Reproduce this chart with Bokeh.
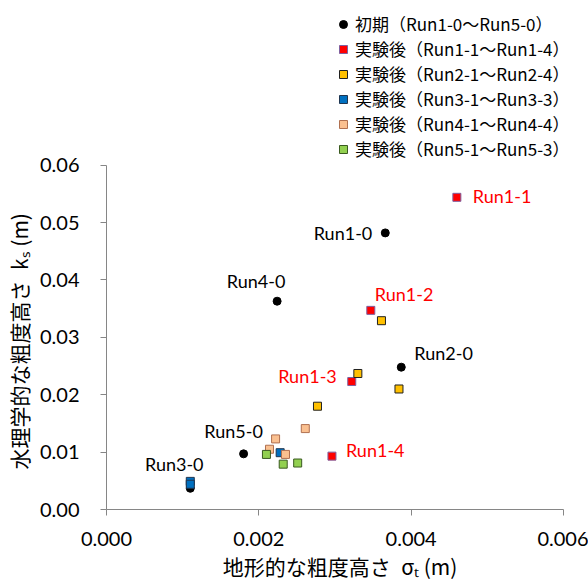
from bokeh.plotting import figure
from bokeh.models import (Range1d, FixedTicker, NumeralTickFormatter, Legend,
                          LegendItem, Title)
from bokeh.embed import file_html
from bokeh.resources import INLINE

# Initial state (Run1-0 ... Run5-0)
initial_names = ["Run1-0", "Run2-0", "Run3-0", "Run4-0", "Run5-0"]
initial_sigma = [0.00366, 0.00387, 0.00110, 0.00224, 0.00180]
initial_ks = [0.0482, 0.0248, 0.0037, 0.0363, 0.0097]

# After experiments, Run1-1 ... Run1-4
run1_names = ["Run1-1", "Run1-2", "Run1-3", "Run1-4"]
run1_sigma = [0.00460, 0.00347, 0.00322, 0.00296]
run1_ks = [0.0544, 0.0347, 0.0223, 0.0093]

# Run2-1 ... Run2-4
run2_sigma = [0.00361, 0.00330, 0.00384, 0.00277]
run2_ks = [0.0329, 0.0237, 0.0210, 0.0180]

# Run3-1 ... Run3-3
run3_sigma = [0.00110, 0.00110, 0.00228]
run3_ks = [0.0049, 0.0044, 0.0099]

# Run4-1 ... Run4-4
run4_sigma = [0.00222, 0.00214, 0.00235, 0.00261]
run4_ks = [0.0123, 0.0105, 0.0096, 0.0141]

# Run5-1 ... Run5-3
run5_sigma = [0.00210, 0.00232, 0.00251]
run5_ks = [0.0096, 0.0079, 0.0081]

legend_labels = [
    "初期（Run1-0～Run5-0）",
    "実験後（Run1-1～Run1-4）",
    "実験後（Run2-1～Run2-4）",
    "実験後（Run3-1～Run3-3）",
    "実験後（Run4-1～Run4-4）",
    "実験後（Run5-1～Run5-3）",
]

x_ticks = [0.0, 0.002, 0.004, 0.006]
y_ticks = [0.0, 0.01, 0.02, 0.03, 0.04, 0.05, 0.06]
X_MAX, Y_MAX = 0.006, 0.06

AXIS_GRAY = "#868686"
LATIN = "Lato"
CJK = "Noto Sans CJK JP"

# Page geometry: the axes span 457 x 345 px; the frame is a little larger so
# the legend has room above and right of the axis ends.
W, H = 588, 583
LEFT, RIGHT, TOP, BOTTOM = 106, 15, 5, 73
X_AXIS_PX, Y_AXIS_PX = 457, 345
x_end = X_MAX * (W - LEFT - RIGHT) / X_AXIS_PX
y_end = Y_MAX * (H - TOP - BOTTOM) / Y_AXIS_PX

p = figure(width=W, height=H, output_backend="svg", toolbar_location=None,
           title=None,
           x_range=Range1d(0, x_end), y_range=Range1d(0, y_end),
           min_border_left=LEFT, min_border_right=RIGHT,
           min_border_top=TOP, min_border_bottom=BOTTOM)
p.outline_line_color = None
p.xgrid.visible = False
p.ygrid.visible = False
p.background_fill_color = "white"
p.border_fill_color = "white"

for ax in (p.xaxis[0], p.yaxis[0]):
    ax.axis_line_color = AXIS_GRAY
    ax.major_tick_line_color = AXIS_GRAY
    ax.minor_tick_line_color = None
    ax.major_tick_in = 0
    ax.major_tick_out = 6
    ax.major_label_text_font = LATIN
    ax.major_label_text_font_size = "20px"
    ax.major_label_text_color = "black"

p.xaxis.bounds = (0, X_MAX)
p.yaxis.bounds = (0, Y_MAX)
p.xaxis.ticker = FixedTicker(ticks=x_ticks)
p.yaxis.ticker = FixedTicker(ticks=y_ticks)
p.xaxis.formatter = NumeralTickFormatter(format="0.000")
p.yaxis.formatter = NumeralTickFormatter(format="0.00")
p.xaxis.major_label_standoff = 16
p.yaxis.major_label_standoff = 21

p.xaxis.axis_label = "地形的な粗度高さ\u2002σₜ (m)"
p.xaxis.axis_label_standoff = 2
p.xaxis.axis_label_text_font = CJK
p.xaxis.axis_label_text_font_size = "21px"
p.xaxis.axis_label_text_font_style = "normal"
p.xaxis.axis_label_text_color = "black"

# y-axis title, placed from the bottom of the axis upward
ytitle = Title(text="水理学的な粗度高さ\u2002kₛ (m)", align="left", offset=40,
               vertical_align="middle", standoff=4,
               text_font=CJK, text_font_size="21px", text_font_style="normal",
               text_color="black")
p.add_layout(ytitle, "left")

styles = [
    dict(marker="circle", fill_color="black", line_color="black"),
    dict(marker="square", fill_color="#FF0000", line_color="#7F60A0"),
    dict(marker="square", fill_color="#FFC000", line_color="#202020"),
    dict(marker="square", fill_color="#0070C0", line_color="#1F3550"),
    dict(marker="square", fill_color="#FAC090", line_color="#B07050"),
    dict(marker="square", fill_color="#92D050", line_color="#3A5A20"),
]
series = [
    (initial_sigma, initial_ks),
    (run1_sigma, run1_ks),
    (run2_sigma, run2_ks),
    (run3_sigma, run3_ks),
    (run4_sigma, run4_ks),
    (run5_sigma, run5_ks),
]
renderers = [p.scatter(xs, ys, size=8, line_width=1, **st)
             for (xs, ys), st in zip(series, styles)]

# Point labels: initial runs in black, Run1 series in red
init_align = ["right", "left", "center", "center", "center"]
init_dx = [-13, 13, -16, -21, -10]
init_dy = [0, -14, -24, -20, -23]
p.text(x=initial_sigma, y=initial_ks, text=initial_names,
       x_offset=init_dx, y_offset=init_dy, text_align=init_align,
       text_baseline="middle", text_font={"value": LATIN},
       text_font_size="18px", text_color="black")

run1_align = ["left", "left", "right", "left"]
run1_dx = [16, 4, -15, 14]
run1_dy = [-1, -16, -6, -6]
p.text(x=run1_sigma, y=run1_ks, text=run1_names,
       x_offset=run1_dx, y_offset=run1_dy, text_align=run1_align,
       text_baseline="middle", text_font={"value": LATIN},
       text_font_size="18px", text_color="#FF0000")

items = [LegendItem(label=lab, renderers=[r])
         for lab, r in zip(legend_labels, renderers)]
legend = Legend(items=items, location=(227, 348),
                glyph_width=20, glyph_height=20, label_standoff=2,
                label_height=20, spacing=0, padding=0, margin=0,
                border_line_color=None, background_fill_alpha=0,
                label_text_font=CJK, label_text_font_size="17px",
                label_text_color="black")
p.add_layout(legend, "center")

open("out.html", "w").write(file_html(p, INLINE))
